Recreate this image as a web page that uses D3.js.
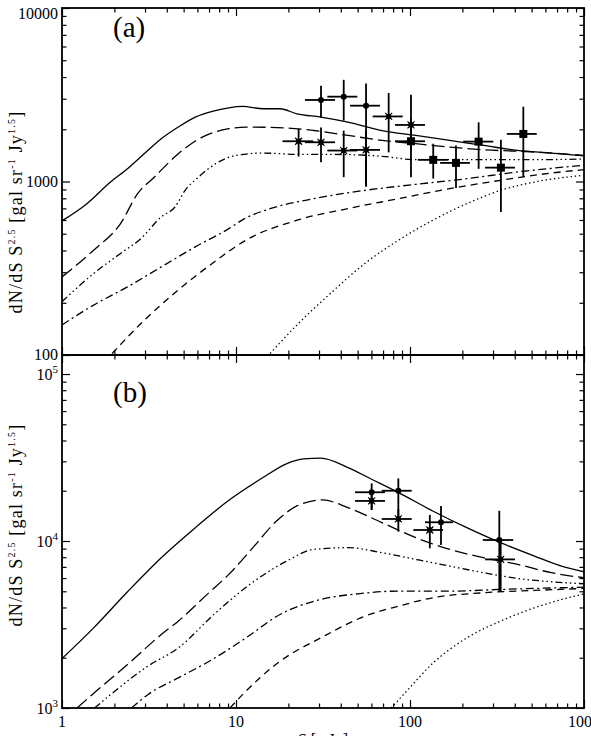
<!DOCTYPE html>
<html>
<head>
<meta charset="utf-8">
<script src="https://cdn.jsdelivr.net/npm/d3@7"></script>
<style>
body { margin: 0; background: #fff; }
text { font-family: "Liberation Serif", serif; fill: #000; }
</style>
</head>
<body>
<script>
// ---- panel (a) model curves: [S mJy, dN/dS S^2.5]
var aTotal = [[1,593],[1.39,745],[1.9,993],[2.38,1186],[3.11,1510],[3.72,1763],[4.66,2060],[5.84,2350],[7.3,2535],[9.1,2660],[10.9,2710],[14.3,2626],[17.9,2626],[22.4,2455],[30.7,2350],[44,2200],[69,1967],[108,1844],[169,1725],[265,1615],[415,1510],[650,1459],[1000,1405]];
var aLongDash = [[1,282],[1.52,402],[2.17,572],[2.72,851],[3.4,1062],[4.66,1446],[6.4,1803],[9.1,2015],[11.4,2060],[19.6,2034],[28,1968],[44,1844],[69,1725],[108,1652],[169,1579],[265,1524],[519,1479],[1000,1414]];
var aDash3Dot = [[1,203],[1.52,295],[2.17,385],[2.84,469],[3.72,626],[4.46,713],[5.1,889],[6.1,1062],[7.64,1267],[10,1414],[14.3,1459],[22.4,1433],[35,1433],[69,1397],[108,1336],[212,1336],[519,1336],[1000,1347]];
var aDashDot = [[1,149],[1.52,194],[2.38,247],[3.72,322],[5.84,420],[9.1,535],[11.2,611],[15.7,697],[28,796],[55,889],[108,963],[212,1038],[415,1135],[1000,1240]];
var aShortDash = [[1.94,102],[2.98,159],[4.66,237],[7.3,337],[11.4,459],[22.4,598],[44,698],[86,796],[169,909],[331,1016],[650,1119],[1000,1170]];
var aDotted = [[15.7,102],[22.4,149],[35,227],[55,337],[86,459],[135,598],[212,745],[331,889],[519,993],[1000,1086]];

// ---- panel (a) data: [S, value, Slo, Shi, vlo, vhi]
var aCircles = [[30.8,2951,24.9,37.1,2344,3565],[41.6,3083,33.5,49.8,2244,3855],[55.9,2735,45.2,67.2,935,3672]];
var aStars = [[22.9,1706,18.5,27.8,1393,2010],[30.8,1683,24.9,37.1,1291,2050],[41.6,1508,33.5,49.8,1059,1963],[55.9,1521,45.2,67.2,935,1963],[75.4,2371,61.1,90.8,1472,3237],[101.3,2118,82,122,1500,3162]];
var aSquares = [[101.3,1706,82,122,1059,2300],[136,1333,111,165,1040,1651],[183.8,1280,149,221,916,1611],[248,1698,202,301,1183,2193],[333,1202,270,401,667,1738],[448,1880,360,535,1059,2698]];

// ---- panel (b) model curves
var bTotal = [[1,1977],[1.52,3020],[2.38,4966],[3.72,7943],[5.84,12023],[9.1,17539],[14.3,23988],[19.6,29107],[24.5,31046],[30.7,31333],[44,27542],[60.2,23442],[86,19498],[135,15136],[212,12023],[331,9772],[519,8128],[743,7079],[1000,6546]];
var bLongDash = [[1.22,1000],[1.49,1202],[2.38,1820],[3.72,2754],[4.66,3311],[6.98,4898],[9.1,6310],[12.5,9120],[17.1,13183],[22.4,16218],[31.4,17620],[44,15849],[69,12882],[108,10471],[169,8913],[265,7943],[415,7244],[650,6457],[1000,6026]];
var bDash3Dot = [[1.54,1000],[1.9,1202],[3.11,1778],[4.66,2291],[7.64,3715],[12,5495],[19.6,7586],[28,8913],[44,9120],[69,8511],[108,7762],[169,7079],[265,6457],[415,5970],[650,5702],[1000,5546]];
var bDashDot = [[2.51,1000],[3.11,1202],[4.66,1514],[7.3,1950],[11.4,2630],[17.9,3631],[30.7,4467],[50.3,4831],[86,5012],[169,5012],[331,5129],[1000,5297]];
var bShortDash = [[9.24,1000],[10.9,1202],[17.9,1905],[30.7,2630],[55,3548],[86,4074],[135,4571],[265,4898],[519,5058],[1000,5200]];
var bDotted = [[78,1000],[95.5,1259],[135,1850],[212,2630],[331,3311],[519,3981],[1000,4831]];

// ---- panel (b) data
var bCircles = [[60.2,19587,48.3,71.8,15350,22130],[85.7,20000,68.8,102.3,13680,23700],[150.7,12950,122,177,9460,16220],[326,10140,262,392,4970,15170]];
var bStars = [[60.2,17380,48.3,71.8,15350,19300],[85.7,13550,68.8,102.3,11380,15500],[130,11640,104.5,155,9040,14330],[332,7760,270,401,4970,10140]];

// ---- tick labels
var xTickLabels = ["1", "10", "100", "1000"];
var aTickLabels = ["100", "1000", "10000"];
var bTickExps = ["3", "4", "5"];

var svg = d3.select("body").append("svg")
    .attr("width", 591)
    .attr("height", 736);

var x = d3.scaleLog().domain([1, 1000]).range([62, 584]);
var yA = d3.scaleLog().domain([100, 10000]).range([355, 8]);
var yB = d3.scaleLog().domain([1000, 130000]).range([708, 355]);

function isMajor(v) {
    var l = Math.log10(v);
    return Math.abs(l - Math.round(l)) < 1e-6;
}

function panel(id, y, curves, circles, stars, squares) {
    var g = svg.append("g");
    var x0 = x.range()[0], x1 = x.range()[1];
    var yb = y.range()[0], yt = y.range()[1];

    g.append("clipPath").attr("id", "clip" + id)
        .append("rect")
        .attr("x", x0).attr("y", yt)
        .attr("width", x1 - x0).attr("height", yb - yt);

    //ticks on all four sides, pointing inwards
    var xt = x.ticks(), yticks = y.ticks();
    var xMaj = xt.filter(isMajor), xMin = xt.filter(function (v) { return !isMajor(v); });
    var yMaj = yticks.filter(isMajor), yMin = yticks.filter(function (v) { return !isMajor(v); });
    [[xMin, 4.5], [xMaj, 8]].forEach(function (t) {
        g.append("g").attr("transform", "translate(0," + yb + ")")
            .call(d3.axisBottom(x).tickValues(t[0]).tickSize(-t[1]).tickFormat(""));
        g.append("g").attr("transform", "translate(0," + yt + ")")
            .call(d3.axisTop(x).tickValues(t[0]).tickSize(-t[1]).tickFormat(""));
    });
    [[yMin, 4.5], [yMaj, 8]].forEach(function (t) {
        g.append("g").attr("transform", "translate(" + x0 + ",0)")
            .call(d3.axisLeft(y).tickValues(t[0]).tickSize(-t[1]).tickFormat(""));
        g.append("g").attr("transform", "translate(" + x1 + ",0)")
            .call(d3.axisRight(y).tickValues(t[0]).tickSize(-t[1]).tickFormat(""));
    });
    g.selectAll(".domain").remove();
    g.selectAll(".tick line").attr("stroke", "#000").attr("stroke-width", 1.2);

    //model curves
    var line = d3.line()
        .x(function (d) { return x(d[0]); })
        .y(function (d) { return y(d[1]); })
        .curve(d3.curveMonotoneX);
    var cg = g.append("g").attr("clip-path", "url(#clip" + id + ")");
    curves.forEach(function (c) {
        cg.append("path")
            .attr("d", line(c.data))
            .attr("fill", "none")
            .attr("stroke", "#000")
            .attr("stroke-width", 1.3)
            .attr("stroke-dasharray", c.dash);
    });

    //error bars + markers
    var all = circles.concat(stars).concat(squares);
    var eg = cg.append("g").attr("stroke", "#000").attr("stroke-width", 1.8);
    all.forEach(function (d) {
        eg.append("line").attr("x1", x(d[2])).attr("x2", x(d[3])).attr("y1", y(d[1])).attr("y2", y(d[1]));
        eg.append("line").attr("x1", x(d[0])).attr("x2", x(d[0])).attr("y1", y(d[4])).attr("y2", y(d[5]));
    });
    cg.selectAll("circle.pt").data(circles).enter().append("circle")
        .attr("cx", function (d) { return x(d[0]); })
        .attr("cy", function (d) { return y(d[1]); })
        .attr("r", 3);
    cg.selectAll("rect.sq").data(squares).enter().append("rect")
        .attr("x", function (d) { return x(d[0]) - 4; })
        .attr("y", function (d) { return y(d[1]) - 4; })
        .attr("width", 8).attr("height", 8);
    stars.forEach(function (d) {
        var px = x(d[0]), py = y(d[1]);
        cg.append("rect").attr("x", px - 2.5).attr("y", py - 2.5).attr("width", 5).attr("height", 5);
        cg.append("path")
            .attr("d", "M" + (px - 3.5) + "," + (py - 3.5) + "L" + (px + 3.5) + "," + (py + 3.5) +
                "M" + (px - 3.5) + "," + (py + 3.5) + "L" + (px + 3.5) + "," + (py - 3.5))
            .attr("stroke", "#000").attr("stroke-width", 1.1);
    });

    //frame
    g.append("rect")
        .attr("x", x0).attr("y", yt)
        .attr("width", x1 - x0).attr("height", yb - yt)
        .attr("fill", "none").attr("stroke", "#000").attr("stroke-width", 1.8);
    return g;
}

var dashes = ["", "13,5", "7,3,1.5,3,1.5,3,1.5,3", "8,3.5,2,3.5", "7,5", "1.4,2.8"];

var gA = panel("a", yA, [aTotal, aLongDash, aDash3Dot, aDashDot, aShortDash, aDotted].map(function (d, i) {
    return {data: d, dash: dashes[i]};
}), aCircles, aStars, aSquares);

var gB = panel("b", yB, [bTotal, bLongDash, bDash3Dot, bDashDot, bShortDash, bDotted].map(function (d, i) {
    return {data: d, dash: dashes[i]};
}), bCircles, bStars, []);

//y tick labels (the top one is kept inside the picture)
[100, 1000, 10000].forEach(function (v, i) {
    svg.append("text")
        .attr("x", 58).attr("y", Math.max(yA(v) + 5, 19))
        .attr("text-anchor", "end")
        .style("font-size", "16px")
        .text(aTickLabels[i]);
});
[1000, 10000, 100000].forEach(function (v, i) {
    var t = svg.append("text")
        .attr("x", 58).attr("y", yB(v) + 6)
        .attr("text-anchor", "end")
        .style("font-size", "16px");
    t.append("tspan").text("10");
    t.append("tspan").attr("dy", -7).style("font-size", "11px").text(bTickExps[i]);
});

//x tick labels
[1, 10, 100, 1000].forEach(function (v, i) {
    svg.append("text")
        .attr("x", x(v)).attr("y", 727)
        .attr("text-anchor", "middle")
        .style("font-size", "16px")
        .text(xTickLabels[i]);
});

svg.append("text")
    .attr("x", (x.range()[0] + x.range()[1]) / 2).attr("y", 745)
    .attr("text-anchor", "middle")
    .style("font-size", "16px")
    .text("S [mJy]");

//panel letters
svg.append("text").attr("x", 113).attr("y", 37).style("font-size", "29px").text("(a)");
svg.append("text").attr("x", 113).attr("y", 402).style("font-size", "29px").text("(b)");

//rotated y-axis titles
function yTitle(cy) {
    var t = svg.append("text")
        .attr("transform", "translate(22," + cy + ") rotate(-90)")
        .attr("text-anchor", "middle")
        .style("font-size", "18px")
        .style("letter-spacing", "1.2px");
    t.append("tspan").text("dN/dS S");
    t.append("tspan").attr("dy", -7).style("font-size", "10px").text("2.5");
    t.append("tspan").attr("dy", 7).text(" [gal sr");
    t.append("tspan").attr("dy", -7).style("font-size", "10px").text("-1");
    t.append("tspan").attr("dy", 7).text(" Jy");
    t.append("tspan").attr("dy", -7).style("font-size", "10px").text("1.5");
    t.append("tspan").attr("dy", 7).text("]");
}
yTitle(212);
yTitle(525);
</script>
</body>
</html>
